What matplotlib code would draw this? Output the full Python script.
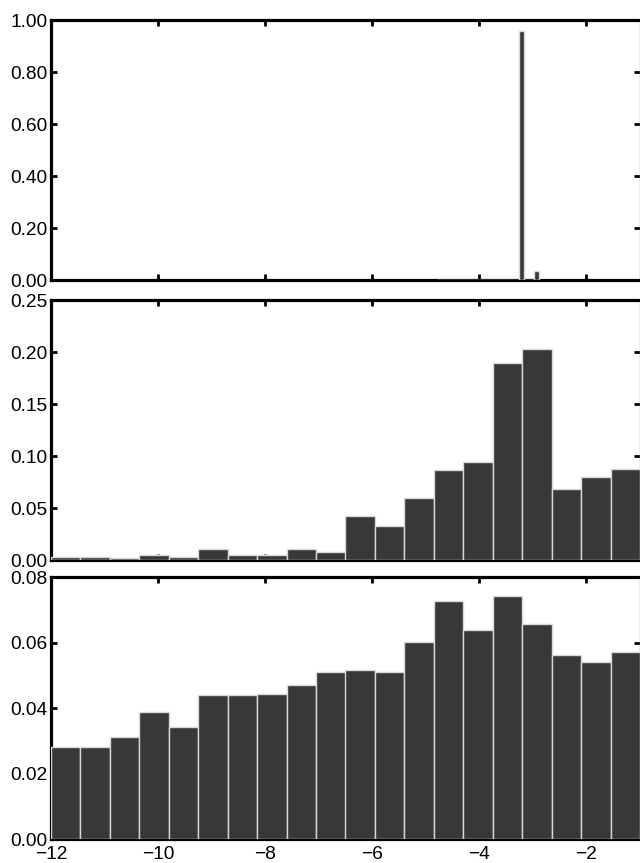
import numpy as np
import matplotlib
matplotlib.use("Agg")
import matplotlib.pyplot as plt
from matplotlib.ticker import FormatStrFormatter

# bin layout: 20 bins per panel
top_lo, top_hi = -4.79, -2.88
wide_lo, wide_hi = -12.0, -1.0

# top panel: narrow bins, nearly all mass in one bin
top_vals = [0, 0, 0, 0, 0, 0, 0, 0, 0, 0,
            0, 0, 0, 0, 0, 0, 0.959, 0, 0, 0.035]

# middle panel
mid_vals = [0.0032, 0.0030, 0.0016, 0.0050, 0.0026, 0.0106, 0.0050, 0.0045,
            0.0109, 0.0080, 0.0426, 0.0327, 0.0600, 0.0862, 0.0939, 0.1890,
            0.2025, 0.0686, 0.0798, 0.0872]

# bottom panel
bot_vals = [0.0282, 0.0280, 0.0311, 0.0387, 0.0343, 0.0439, 0.0439, 0.0443,
            0.0471, 0.0510, 0.0517, 0.0510, 0.0603, 0.0727, 0.0637, 0.0741,
            0.0656, 0.0562, 0.0539, 0.0571]

xticks = [-12, -10, -8, -6, -4, -2]

plt.rcParams['font.family'] = ['Liberation Sans', 'DejaVu Sans']
plt.rcParams['font.size'] = 13.8

fig = plt.figure(figsize=(6.40, 8.63), dpi=100)
W, H = 640.0, 863.0
left = 51 / W
width = 1.0 - left


def panel(top_px, bot_px):
    return fig.add_axes([left, 1 - bot_px / H, width, (bot_px - top_px) / H])


def style(ax, ylim, yticks, show_x):
    ax.set_xlim(wide_lo, wide_hi)
    ax.set_ylim(*ylim)
    ax.set_xticks(xticks)
    ax.set_yticks(yticks)
    ax.yaxis.set_major_formatter(FormatStrFormatter('%.2f'))
    ax.tick_params(direction='in', length=4, width=2, top=True, right=True,
                   labelbottom=show_x)
    ax.tick_params(axis='y', pad=2.5)
    ax.tick_params(axis='x', pad=5)
    for side in ['top', 'bottom', 'left']:
        ax.spines[side].set_linewidth(2.3)
    ax.spines['right'].set_linewidth(1.0)
    ax.spines['right'].set_color('#aaaaaa')


def draw_hist(ax, lo, hi, vals):
    edges = np.linspace(lo, hi, len(vals) + 1)
    ax.bar(edges[:-1], vals, width=np.diff(edges), align='edge',
           color='#383838', edgecolor='#d8d8d8', linewidth=1.0, zorder=3)


ax1 = panel(20, 280)
draw_hist(ax1, top_lo, top_hi, top_vals)
style(ax1, (0, 1.0), np.arange(0, 1.01, 0.2), False)

ax2 = panel(300, 560)
draw_hist(ax2, wide_lo, wide_hi, mid_vals)
style(ax2, (0, 0.25), np.arange(0, 0.251, 0.05), False)

ax3 = panel(577, 839)
draw_hist(ax3, wide_lo, wide_hi, bot_vals)
style(ax3, (0, 0.08), np.arange(0, 0.081, 0.02), True)
ax3.set_xticklabels(['\u2212%d' % abs(t) for t in xticks])

fig.savefig('out.png', dpi=100)
